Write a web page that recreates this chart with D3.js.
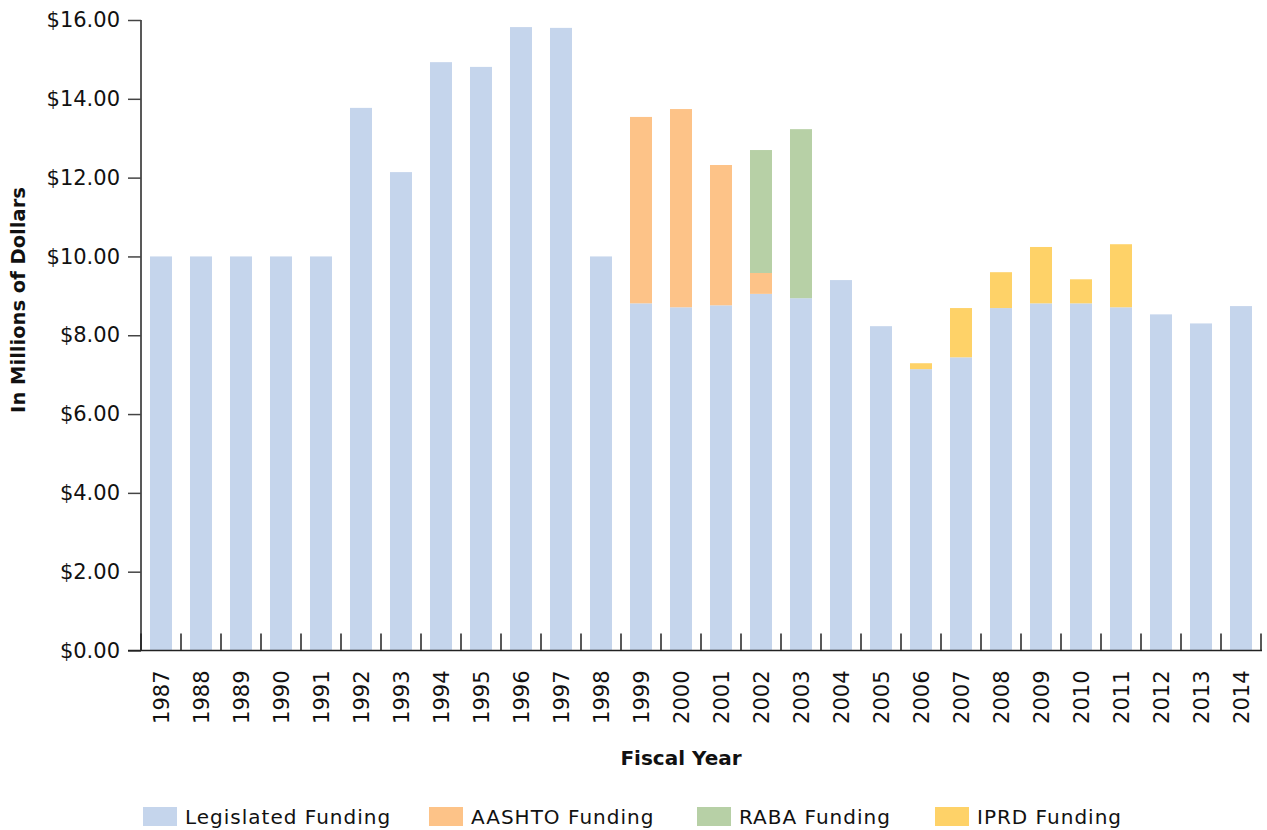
<!DOCTYPE html>
<html>
<head>
<meta charset="utf-8">
<script src="https://cdn.jsdelivr.net/npm/d3@7"></script>
<style>
  body { margin: 0; background: #fff; }
  svg { font-family: "DejaVu Sans", sans-serif; }
</style>
</head>
<body>
<div id="chart"></div>
<script>
var years = ["1987","1988","1989","1990","1991","1992","1993","1994","1995","1996","1997","1998","1999","2000",
  "2001","2002","2003","2004","2005","2006","2007","2008","2009","2010","2011","2012","2013","2014"];
var legislated = [10.0,10.0,10.0,10.0,10.0,13.77,12.14,14.93,14.81,15.82,15.80,10.0,8.81,8.71,
  8.76,9.05,8.94,9.40,8.23,7.14,7.44,8.69,8.81,8.81,8.71,8.53,8.30,8.74];
var aashto = [0,0,0,0,0,0,0,0,0,0,0,0,4.73,5.03,
  3.56,0.53,0,0,0,0,0,0,0,0,0,0,0,0];
var raba = [0,0,0,0,0,0,0,0,0,0,0,0,0,0,
  0,3.12,4.29,0,0,0,0,0,0,0,0,0,0,0];
var iprd = [0,0,0,0,0,0,0,0,0,0,0,0,0,0,
  0,0,0,0,0,0.15,1.25,0.91,1.43,0.61,1.60,0,0,0];
var seriesNames = ["Legislated Funding", "AASHTO Funding", "RABA Funding", "IPRD Funding"];
var seriesColors = ["#c5d5ec", "#fdc388", "#b7d0a6", "#fed268"];
var yTicks = [0, 2, 4, 6, 8, 10, 12, 14, 16];

var W = 1267, H = 830;
var plotLeft = 141, plotRight = 1261, plotTop = 20, plotBottom = 650.5;

// table for the stack
var rows = years.map(function(y, i) {
  return { year: y, "Legislated Funding": legislated[i], "AASHTO Funding": aashto[i],
    "RABA Funding": raba[i], "IPRD Funding": iprd[i] };
});
var stacked = d3.stack().keys(seriesNames)(rows);

var svg = d3.select("#chart").append("svg")
  .attr("width", W)
  .attr("height", H);

var x = d3.scaleBand().domain(years).range([plotLeft, plotRight]).paddingInner(0.45).paddingOuter(0.225);
var y = d3.scaleLinear().domain([0, 16]).range([plotBottom, plotTop]);
var color = d3.scaleOrdinal().domain(seriesNames).range(seriesColors);

// bars
svg.append("g").selectAll("g")
  .data(stacked)
  .enter().append("g")
    .attr("fill", function(d) { return color(d.key); })
  .selectAll("rect")
  .data(function(d) { return d; })
  .enter().append("rect")
    .attr("x", function(d) { return x(d.data.year); })
    .attr("width", x.bandwidth())
    .attr("y", function(d) { return y(d[1]); })
    .attr("height", function(d) { return y(d[0]) - y(d[1]); });

// y axis
var yAxis = svg.append("g")
  .attr("transform", "translate(" + plotLeft + ",0)")
  .call(d3.axisLeft(y).tickValues(yTicks).tickSize(13).tickPadding(8)
    .tickFormat(function(d) { return "$" + d3.format(".2f")(d); }));
yAxis.select(".domain").attr("d", "M0," + plotTop + "V" + plotBottom).attr("stroke", "#222").attr("stroke-width", 1.5);
yAxis.selectAll(".tick line").attr("stroke", "#444").attr("stroke-width", 1.5);
yAxis.selectAll("text").attr("font-size", 21).attr("fill", "#111").attr("font-family", "DejaVu Sans");

// x axis baseline + boundary ticks
var step = x.step();
var bounds = d3.range(years.length + 1).map(function(i) { return plotLeft + i * step; });
svg.append("line")
  .attr("x1", plotLeft - 13).attr("x2", plotRight + 1)
  .attr("y1", plotBottom).attr("y2", plotBottom)
  .attr("stroke", "#222").attr("stroke-width", 1.5);
svg.append("g").selectAll("line")
  .data(bounds)
  .enter().append("line")
    .attr("x1", function(d) { return d; })
    .attr("x2", function(d) { return d; })
    .attr("y1", plotBottom - 17).attr("y2", plotBottom)
    .attr("stroke", "#222").attr("stroke-width", 1.5);

svg.append("g").selectAll("text")
  .data(years)
  .enter().append("text")
    .attr("transform", function(d) {
      return "translate(" + (x(d) + x.bandwidth() / 2 + 7.5) + "," + (plotBottom + 20) + ") rotate(-90)";
    })
    .attr("text-anchor", "end")
    .attr("font-size", 21)
    .attr("fill", "#111")
    .text(function(d) { return d; });

// axis titles
svg.append("text")
  .attr("transform", "translate(25,300) rotate(-90)")
  .attr("text-anchor", "middle")
  .attr("font-size", 19.5)
  .attr("font-weight", "bold")
  .attr("fill", "#111")
  .text("In Millions of Dollars");

svg.append("text")
  .attr("x", 681).attr("y", 765)
  .attr("text-anchor", "middle")
  .attr("font-size", 20)
  .attr("font-weight", "bold")
  .attr("fill", "#111")
  .text("Fiscal Year");

// legend
var legendX = [143, 429, 697, 935];
var legend = svg.append("g").selectAll("g")
  .data(seriesNames)
  .enter().append("g")
    .attr("transform", function(d, i) { return "translate(" + legendX[i] + ",807)"; });
legend.append("rect")
  .attr("width", 34).attr("height", 19)
  .attr("fill", function(d) { return color(d); });
legend.append("text")
  .attr("x", 42).attr("y", 17)
  .attr("font-size", 20)
  .attr("letter-spacing", 1)
  .attr("fill", "#111")
  .text(function(d) { return d; });
</script>
</body>
</html>
